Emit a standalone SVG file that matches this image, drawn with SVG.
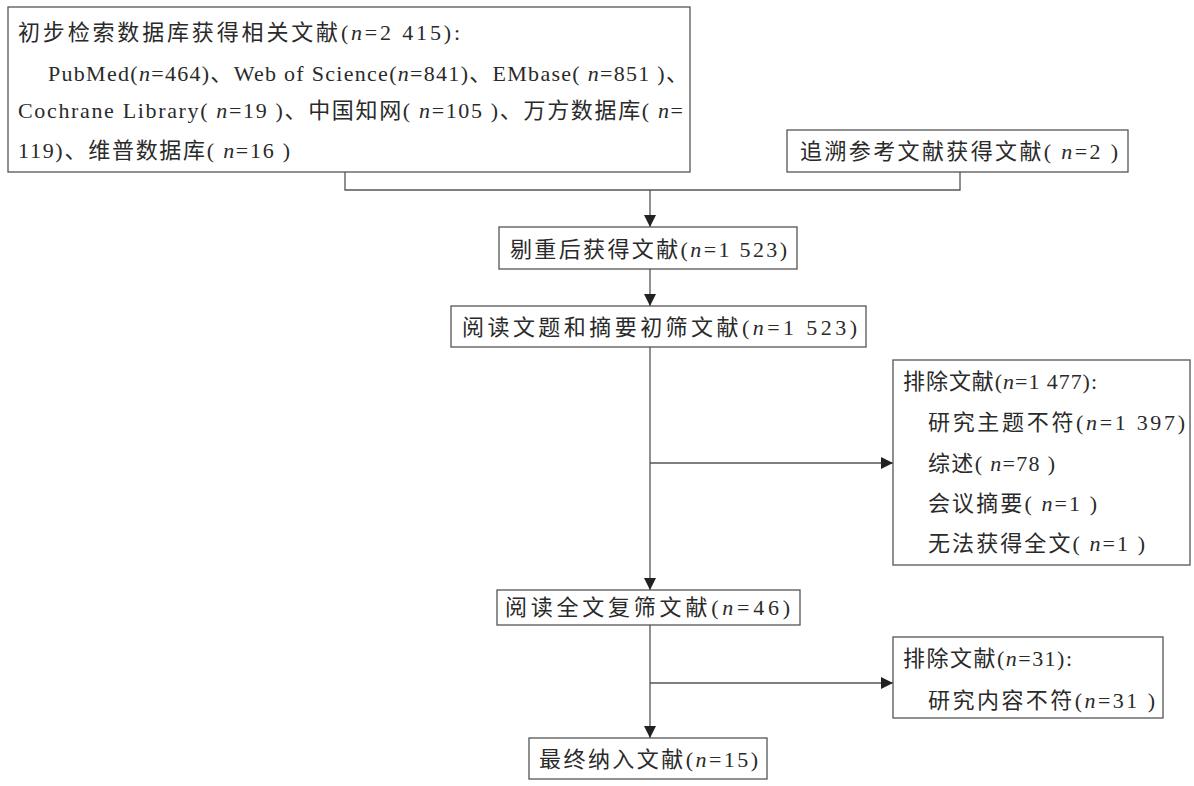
<svg xmlns="http://www.w3.org/2000/svg" width="1194" height="786" viewBox="0 0 1194 786">
<style>
.box{fill:#fff;stroke:#555;stroke-width:1.3}
.t{font-family:"Liberation Serif","Noto Sans CJK SC",serif;font-size:22px;fill:#2a2a2a}
.c{fill:none;stroke:#555;stroke-width:1.3}
</style>
<defs>
<marker id="ah" viewBox="0 0 12 12" refX="12" refY="6" markerWidth="12" markerHeight="12" markerUnits="userSpaceOnUse" orient="auto">
<path d="M0,0 L12,6 L0,12 Z" fill="#222"/>
</marker>
</defs>
<rect width="1194" height="786" fill="#fff"/>
<g id="connectors">
<polyline class="c" points="345,172 345,190 960,190 960,172"/>
<line class="c" x1="650" y1="190" x2="650" y2="227" marker-end="url(#ah)"/>
<line class="c" x1="650" y1="269" x2="650" y2="306" marker-end="url(#ah)"/>
<line class="c" x1="650" y1="347" x2="650" y2="590" marker-end="url(#ah)"/>
<line class="c" x1="650" y1="463" x2="893" y2="463" marker-end="url(#ah)"/>
<line class="c" x1="650" y1="625" x2="650" y2="738" marker-end="url(#ah)"/>
<line class="c" x1="650" y1="683" x2="893" y2="683" marker-end="url(#ah)"/>
</g>
<g id="search">
<rect class="box" x="8" y="7" width="682" height="165"/>
<text class="t" x="18" y="40" textLength="442" lengthAdjust="spacing">初步检索数据库获得相关文献(<tspan font-style="italic">n</tspan>=2 415):</text>
<text class="t" x="48" y="81" textLength="640" lengthAdjust="spacing">PubMed(<tspan font-style="italic">n</tspan>=464)、Web of Science(<tspan font-style="italic">n</tspan>=841)、EMbase( <tspan font-style="italic">n</tspan>=851 )、</text>
<text class="t" x="18" y="118" textLength="665" lengthAdjust="spacing">Cochrane Library( <tspan font-style="italic">n</tspan>=19 )、中国知网( <tspan font-style="italic">n</tspan>=105 )、万方数据库( <tspan font-style="italic">n</tspan>=</text>
<text class="t" x="18" y="158" textLength="272" lengthAdjust="spacing">119)、维普数据库( <tspan font-style="italic">n</tspan>=16 )</text>
</g>
<g id="trace">
<rect class="box" x="787" y="130" width="341" height="42"/>
<text class="t" x="800" y="159" textLength="318" lengthAdjust="spacing">追溯参考文献获得文献( <tspan font-style="italic">n</tspan>=2 )</text>
</g>
<g id="dedup">
<rect class="box" x="499" y="227" width="298" height="42"/>
<text class="t" x="510" y="257" textLength="277" lengthAdjust="spacing">剔重后获得文献(<tspan font-style="italic">n</tspan>=1 523)</text>
</g>
<g id="screen1">
<rect class="box" x="451" y="306" width="415" height="41"/>
<text class="t" x="462" y="335" textLength="395" lengthAdjust="spacing">阅读文题和摘要初筛文献(<tspan font-style="italic">n</tspan>=1 523)</text>
</g>
<g id="exclude1">
<rect class="box" x="893" y="360" width="297" height="205"/>
<text class="t" x="903" y="389" textLength="194" lengthAdjust="spacing">排除文献(<tspan font-style="italic">n</tspan>=1 477):</text>
<text class="t" x="928" y="430" textLength="257" lengthAdjust="spacing">研究主题不符(<tspan font-style="italic">n</tspan>=1 397)</text>
<text class="t" x="928" y="471" textLength="127" lengthAdjust="spacing">综述( <tspan font-style="italic">n</tspan>=78 )</text>
<text class="t" x="928" y="511" textLength="169" lengthAdjust="spacing">会议摘要( <tspan font-style="italic">n</tspan>=1 )</text>
<text class="t" x="928" y="551" textLength="217" lengthAdjust="spacing">无法获得全文( <tspan font-style="italic">n</tspan>=1 )</text>
</g>
<g id="screen2">
<rect class="box" x="497" y="590" width="303" height="35"/>
<text class="t" x="505" y="615" textLength="285" lengthAdjust="spacing">阅读全文复筛文献(<tspan font-style="italic">n</tspan>=46)</text>
</g>
<g id="exclude2">
<rect class="box" x="893" y="637" width="270" height="81"/>
<text class="t" x="903" y="666" textLength="169" lengthAdjust="spacing">排除文献(<tspan font-style="italic">n</tspan>=31):</text>
<text class="t" x="928" y="708" textLength="227" lengthAdjust="spacing">研究内容不符(<tspan font-style="italic">n</tspan>=31 )</text>
</g>
<g id="final">
<rect class="box" x="529" y="738" width="238" height="41"/>
<text class="t" x="539" y="767" textLength="219" lengthAdjust="spacing">最终纳入文献(<tspan font-style="italic">n</tspan>=15)</text>
</g>
</svg>
